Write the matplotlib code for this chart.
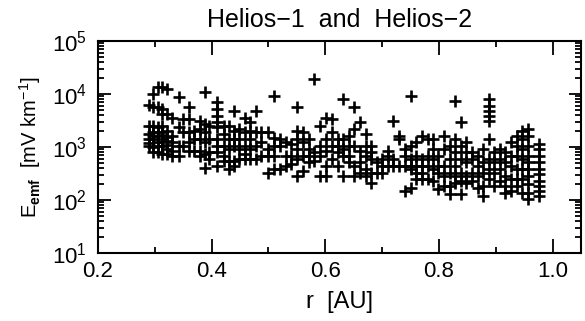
import numpy as np
import matplotlib
matplotlib.use("Agg")
import matplotlib.pyplot as plt
from matplotlib.ticker import MultipleLocator, LogLocator, FixedLocator, NullFormatter, FormatStrFormatter

plt.rcParams['font.family'] = ['Liberation Sans', 'DejaVu Sans']
plt.rcParams['mathtext.fontset'] = 'custom'
plt.rcParams['mathtext.rm'] = 'Liberation Sans'
plt.rcParams['mathtext.it'] = 'Liberation Sans'
plt.rcParams['mathtext.bf'] = 'Liberation Sans:bold'

# Data: radial distance (AU) and E_emf (mV/km), grouped by column
columns = [
    (0.290, [6200, 2500, 1750, 1410, 1050, 1200]),
    (0.297, [10000, 5600, 2500, 1880, 1410, 980, 790, 1600]),
    (0.305, [13400, 5600, 2340, 1630, 1220, 790, 1900, 1050]),
    (0.313, [13800, 5200, 4200, 2520, 1880, 1410, 1050, 730, 1650, 1220]),
    (0.321, [12400, 4200, 2020, 1310, 910, 730, 1550, 1100]),
    (0.330, [3600, 1630, 850, 680, 1250]),
    (0.342, [8700, 2340, 1050, 680]),
    (0.350, [3370, 1880, 1050]),
    (0.360, [5600, 3370, 1880, 1220, 850]),
    (0.369, [2020, 1410, 850]),
    (0.379, [3120, 2180, 1410, 850, 680]),
    (0.388, [10700, 2700, 1880, 1220, 730, 410]),
    (0.396, [2520, 1410, 790, 590]),
    (0.409, [7000, 5200, 3900, 2900, 2340, 1410, 1050, 790, 440]),
    (0.422, [2520, 1750, 1050, 680, 550]),
    (0.430, [2520, 1410, 910, 550, 380]),
    (0.440, [4800, 2020, 1410, 1050, 550, 440]),
    (0.448, [2180, 1410, 910, 590]),
    (0.458, [3600, 1880, 1050, 730, 590]),
    (0.468, [2900, 2020, 1410, 910, 590]),
    (0.478, [4800, 1880, 1050, 590]),
    (0.487, [1880, 1220, 680]),
    (0.499, [1880, 910, 680, 330]),
    (0.510, [9300, 1510, 1050, 680, 380]),
    (0.520, [1410, 1050, 380]),
    (0.530, [1220, 680, 440]),
    (0.540, [1130, 680, 475]),
    (0.551, [5600, 2020, 1410, 910, 590, 285]),
    (0.561, [1880, 1220, 680, 355]),
    (0.571, [1410, 910, 680, 510]),
    (0.581, [19300, 790, 550]),
    (0.591, [2520, 1050, 680, 285]),
    (0.601, [3600, 1410, 850, 440, 285]),
    (0.612, [3370, 1880, 1050, 590]),
    (0.622, [1410, 1050, 790, 440]),
    (0.632, [8070, 1410, 910, 680, 285]),
    (0.642, [1630, 1050, 680, 510]),
    (0.651, [5600, 2180, 1050, 440, 285]),
    (0.661, [2900, 850, 510, 330]),
    (0.671, [1750, 1050, 680, 380, 285]),
    (0.681, [1050, 790, 590, 330, 213]),
    (0.691, [510, 330]),
    (0.700, [590, 440, 330]),
    (0.710, [850, 680, 440]),
    (0.720, [3120, 590, 440]),
    (0.730, [1630, 1410, 440]),
    (0.740, [910, 680, 440, 148]),
    (0.750, [9300, 1050, 590, 440, 380, 171]),
    (0.760, [1220, 680, 440, 330, 246]),
    (0.770, [1630, 590, 440, 330, 246]),
    (0.780, [1410, 680, 440, 246]),
    (0.789, [1410, 910, 590, 380, 230]),
    (0.799, [680, 440, 330, 160]),
    (0.809, [1630, 910, 440, 285, 184]),
    (0.819, [1050, 590, 330, 184, 128]),
    (0.829, [7500, 1410, 790, 440, 285, 213]),
    (0.838, [2900, 1050, 590, 330, 230, 128]),
    (0.848, [1220, 790, 510, 285, 213]),
    (0.858, [790, 590, 330, 230]),
    (0.868, [680, 440, 285, 171]),
    (0.878, [910, 510, 330, 184, 119]),
    (0.888, [8070, 6030, 4800, 3900, 3120, 1410, 590, 380, 246]),
    (0.897, [790, 510, 330, 184]),
    (0.907, [910, 590, 380, 230]),
    (0.917, [790, 510, 285, 184, 137]),
    (0.927, [1220, 680, 440, 246, 148]),
    (0.937, [1630, 1050, 680, 380, 246, 184]),
    (0.947, [2020, 1410, 910, 590, 380, 246, 137]),
    (0.957, [2180, 1630, 1050, 680, 510, 380, 285, 198, 137, 103]),
    (0.976, [1130, 910, 680, 510, 380, 305, 230, 184, 148, 119]),
]
r_au = [r for r, es in columns for _ in es]
e_emf = [e for _, es in columns for e in es]

x_ticks = [0.2, 0.4, 0.6, 0.8, 1.0]
title = "Helios\u22121 and Helios\u22122"

fig = plt.figure(figsize=(5.85, 3.21), dpi=100)
ax = fig.add_axes([98/585, 1-253/321, (581-98)/585, (253-41)/321])
ax.plot(r_au, e_emf, linestyle='none', marker='+', color='black',
        markersize=8.6, markeredgewidth=1.9)
ax.set_yscale('log')
ax.set_xlim(0.2, 1.05)
ax.set_ylim(10, 1e5)
ax.xaxis.set_major_locator(FixedLocator(x_ticks))
ax.xaxis.set_minor_locator(MultipleLocator(0.1))
ax.xaxis.set_major_formatter(FormatStrFormatter('%.1f'))
ax.yaxis.set_major_locator(LogLocator(base=10, numticks=10))
ax.yaxis.set_minor_locator(LogLocator(base=10, subs=np.arange(2, 10), numticks=10))
ax.yaxis.set_minor_formatter(NullFormatter())
ax.tick_params(which='both', direction='in', top=True, right=True, labelsize=16, width=1.3)
ax.tick_params(axis='x', which='major', length=10, pad=6)
ax.tick_params(axis='y', which='major', length=9, pad=8)
ax.tick_params(which='minor', length=4.5)
for s in ax.spines.values():
    s.set_linewidth(1.5)
ax.set_xlabel('r  [AU]', fontsize=17, labelpad=6)
ax.set_ylabel(r'E$_{\mathbf{emf}}$  [mV km$^{\mathregular{-1}}$]', fontsize=14.5, labelpad=6)
ax.set_title(title.replace(' and ', '  and  '), fontsize=18, pad=10)
fig.savefig('out.png', dpi=100)
